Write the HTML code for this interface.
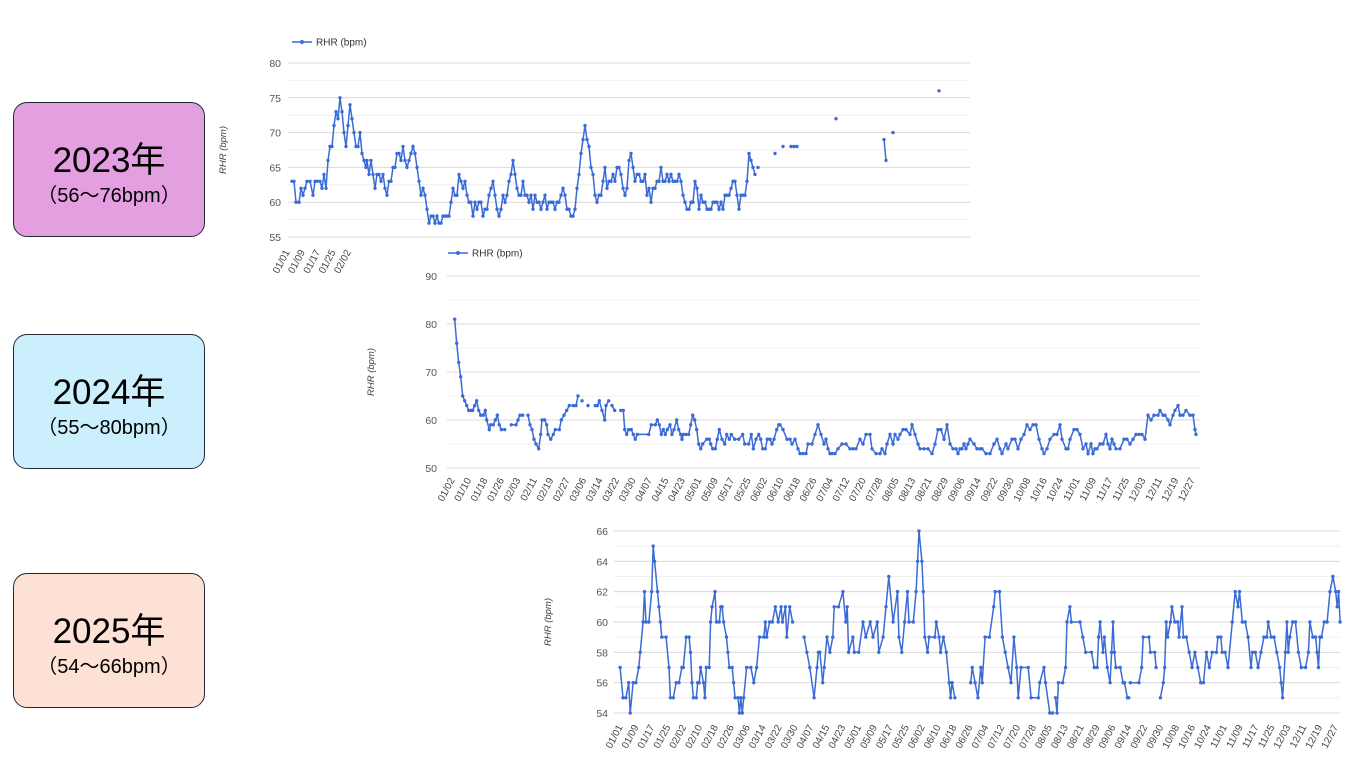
<!DOCTYPE html>
<html><head><meta charset="utf-8">
<style>
html,body{margin:0;padding:0;background:#fff;width:1347px;height:760px;overflow:hidden;position:relative;font-family:"Liberation Sans","Noto Sans CJK JP",sans-serif}
.box{position:absolute;left:13px;width:190px;height:133px;border:1.5px solid #1f2a36;border-radius:14px;text-align:center;color:#000}
.box .y{font-size:35px;margin-top:38px;line-height:40px}
.box .r{font-size:20px;line-height:30px}
svg{position:absolute;left:0;top:0}
</style></head><body>
<div class="box" style="top:102px;background:#e39fdf"><div class="y">2023年</div><div class="r">（56～76bpm）</div></div>
<div class="box" style="top:334px;background:#cbeffc"><div class="y">2024年</div><div class="r">（55～80bpm）</div></div>
<div class="box" style="top:573px;background:#fce1d4"><div class="y">2025年</div><div class="r">（54～66bpm）</div></div>
<svg id="s" width="1347" height="760" xmlns="http://www.w3.org/2000/svg" font-family="Liberation Sans, sans-serif"></svg>
<script>
var S=document.getElementById('s'),out='';
var C='#3a6bd6';
function grid(x0,x1,yTop,yBot,n,majorEvery){for(var i=0;i<=n;i++){var y=yTop+(yBot-yTop)*i/n;out+='<line x1="'+x0+'" x2="'+x1+'" y1="'+y+'" y2="'+y+'" stroke="'+(i%majorEvery==0?'#d9d9d9':'#efefef')+'" stroke-width="1"/>';}}
function ylab(x,yTop,yBot,vals){for(var i=0;i<vals.length;i++){var y=yTop+(yBot-yTop)*i/(vals.length-1);out+='<text x="'+x+'" y="'+(y+4)+'" font-size="10.5" fill="#555" text-anchor="end">'+vals[i]+'</text>';}}
function series(a,fx,fy){var segs=[],cur=[];for(var i=0;i<a.length;i+=2){if(a[i]===null){if(cur.length)segs.push(cur);cur=[];i--;continue;}cur.push([fx(a[i]),fy(a[i+1])]);}if(cur.length)segs.push(cur);
segs.forEach(function(s){if(s.length>1)out+='<polyline fill="none" stroke="'+C+'" stroke-width="1.5" points="'+s.map(function(p){return p[0].toFixed(1)+','+p[1].toFixed(1)}).join(' ')+'"/>';s.forEach(function(p){out+='<circle cx="'+p[0].toFixed(1)+'" cy="'+p[1].toFixed(1)+'" r="1.7" fill="'+C+'"/>';});});}
function legend(x,y){out+='<line x1="'+x+'" x2="'+(x+20)+'" y1="'+y+'" y2="'+y+'" stroke="'+C+'" stroke-width="1.5"/><circle cx="'+(x+10)+'" cy="'+y+'" r="2" fill="'+C+'"/><text x="'+(x+24)+'" y="'+(y+3.5)+'" font-size="10" fill="#333">RHR (bpm)</text>';}
function ytitle(x,y){out+='<text transform="translate('+x+','+y+') rotate(-90)" font-size="9.5" font-style="italic" fill="#444" text-anchor="middle">RHR (bpm)</text>';}
function xlabs(x0,dx,n,yy,startDate,limitX){var d=new Date(startDate);for(var i=0;i<n;i++){var x=x0+dx*i;if(limitX&&x>limitX)break;var m=('0'+(d.getUTCMonth()+1)).slice(-2),dd=('0'+d.getUTCDate()).slice(-2);out+='<text transform="translate('+(x+3)+','+yy+') rotate(-62)" font-size="10" fill="#444" text-anchor="end">'+m+'/'+dd+'</text>';d.setUTCDate(d.getUTCDate()+8);}}

grid(288,970,63,237,10,2);
ylab(281,63,237,[80,75,70,65,60,55]);
legend(292,42);ytitle(226,150);
var c1=[292,63,294,63,296,60,299,60,301,62,303,61,305,62,307,63,310,63,313,61,315,63,317,63,320,63,322,62,324,64,326,62,328,66,330,68,332,68,334,71,336,73,338,72,340,75,342,73,344,70,346,68,348,71,350,74,352,72,354,70,356,68,358,68,360,70,362,67,364,66,366,65,367,66,369,64,371,66,373,64,375,62,377,64,379,64,381,63,383,64,385,62,387,61,389,63,391,63,393,65,395,65,397,67,399,67,401,66,403,68,405,66,407,65,409,66,411,67,413,68,415,67,417,65,419,63,421,61,423,62,425,61,427,59,429,57,431,58,433,58,435,57,437,58,439,57,441,57,443,58,445,58,447,58,449,58,451,60,453,62,455,61,457,61,459,64,461,63,463,62,465,63,467,61,469,60,471,60,473,58,475,60,477,59,479,60,481,60,483,58,485,59,487,59,489,61,491,62,493,63,495,61,497,59,499,58,501,59,503,61,505,60,507,61,509,63,511,64,513,66,515,64,517,62,519,61,521,61,523,63,525,61,527,61,529,60,531,61,533,59,535,61,537,60,539,60,541,59,543,60,545,61,547,59,549,60,551,60,553,60,555,59,557,60,559,60,561,61,563,62,565,61,567,59,569,59,571,58,573,58,575,59,577,62,579,64,581,67,583,69,585,71,587,69,589,68,591,65,593,64,595,61,597,60,599,61,601,61,603,63,605,65,607,62,609,63,611,63,613,64,615,63,617,65,619,65,621,64,623,62,625,61,627,62,629,66,631,67,633,65,635,63,637,64,639,64,641,63,643,63,645,64,647,61,649,62,651,60,653,62,655,62,657,63,659,63,661,65,663,63,665,63,667,64,669,63,671,64,673,63,675,63,677,63,679,64,681,63,683,61,685,60,687,59,689,59,691,60,693,60,695,63,697,62,699,59,701,61,703,60,705,60,707,59,709,59,711,59,713,60,715,60,717,60,719,59,721,60,723,59,725,61,727,61,729,61,731,62,733,63,735,63,737,61,739,59,741,61,743,61,745,61,747,63,749,67,751,66,753,65,755,64,null,758,65,null,775,67,null,783,68,null,791,68,794,68,797,68,null,836,72,null,884,69,886,66,null,893,70,null,939,76];
series(c1,function(x){return x},function(v){return 237-(v-55)*6.96});
xlabs(287,15.3,5,252,'2023-01-01',355);
for(var k=0;k<28;k++){var xx=372+k*21.5;out+='<rect x="'+xx+'" y="244" width="2" height="2" fill="#bbb"/>';}

out+='<rect x="365" y="243" width="842" height="268" fill="#fff"/>';
grid(447,1200,276,468,8,2);
ylab(437,276,468,[90,80,70,60,50]);
legend(448,253);ytitle(374,372);
function z2(a){var r=[];for(var i=0;i<a.length;i++){if(a[i]===null){r.push(null);continue;}r.push(360+a[i]/3,a[i+1]);i++;}return r;}
var c2a=z2([284,81,290,76,296,72,302,69,308,65,314,64,320,63,326,62,332,62,338,62,344,63,350,64,356,62,362,61,370,61,376,62,380,60,388,58,392,59,400,59,406,60,412,61,418,59,424,58,434,58,null,454,59,468,59,474,60,480,61,488,61,null,504,61,510,59,516,58,522,56,528,55,536,54,542,57,546,60,554,60,560,59,564,57,572,56,580,57,586,58,598,58,604,60,612,61,620,62,628,63,640,63,648,63,654,65,null,666,64,null,684,63,null,706,63,712,63,718,64,726,62,734,60,738,63,746,64,null,756,63,764,62,null,782,62,790,62,794,58,800,57,806,58,814,58,820,57,826,56,832,57,866,57,874,59,886,59,892,60,898,59,904,57,910,58,916,57,922,58,930,59,936,57,942,58,950,60,956,58,962,57,966,56,970,57,978,57,986,57,992,59,998,61,1004,60,1010,58,1016,55,1022,54,1028,55,1040,56,1048,56,1052,55,1058,54,1066,54,1072,56,1078,58,1086,56,1094,55,1100,57,1108,56,1114,57,1124,56,1136,56,1148,57,1154,55,1166,55,1174,57,1180,54,1188,56,1196,57,1202,56,1208,54,1216,54,1222,56,1230,56,1236,55,1242,56,1250,58,1256,59]);
var c2b=[780,59,783,58,787,56,790,56,792,55,795,56,798,54,800,53,803,53,806,53,808,55,812,55,815,57,818,59,821,57,824,55,826,56,828,54,830,53,832,53,835,53,838,54,842,55,846,55,850,54,853,54,856,54,860,56,863,55,866,57,870,57,872,54,876,53,880,53,882,54,885,53,887,55,890,57,893,55,895,57,898,56,900,57,903,58,906,58,910,57,912,59,915,57,918,55,920,54,924,54,928,54,932,53,935,55,938,58,941,58,944,56,947,59,950,55,953,54,956,54,958,53,960,54,962,54,964,55,966,54,968,55,970,56,974,55,977,54,980,54,982,54,986,53,990,53,994,55,997,56,1000,54,1002,53,1006,55,1008,54,1012,56,1015,56,1018,54,1021,56,1024,57,1027,59,1030,58,1033,59,1036,59,1039,56,1042,54,1044,53,1047,54,1050,56,1054,57,1057,57,1060,59,1062,56,1066,54,1068,54,1070,56,1074,58,1077,58,1080,57,1083,54,1086,55,1088,53,1091,55,1093,53,1095,54,1097,54,1100,55,1103,55,1106,57,1108,55,1110,54,1112,56,1114,55,1116,54,1120,54,1124,56,1127,56,1130,55,1133,56,1136,57,1139,57,1142,57,1145,56,1148,61,1151,60,1154,61,1158,61,1160,62,1163,61,1165,61,1168,60,1170,59,1173,61,1175,62,1178,63,1180,61,1183,61,1186,62,1190,61,1193,61,1195,58,1196,57];
var fy2=function(v){return 468-(v-50)*4.8};
series(c2a,function(x){return x},fy2);
series(c2b,function(x){return x},fy2);
xlabs(452,16.45,46,480,'2024-01-02');

grid(614,1340,531,713,12,2);
ylab(608,531,713,[66,64,62,60,58,56,54]);
ytitle(551,622);
var c3=[614,57,616,55,618,55,620,56,621,54,623,56,625,56,627,57,628,58,630,60,631,62,632,60,634,60,636,62,637,65,638,64,640,62,641,61,642,60,643,59,646,59,648,57,649,55,651,55,653,56,655,56,657,57,658,57,660,59,662,59,663,58,664,56,665,55,667,55,668,56,669,56,670,57,672,56,673,55,674,57,676,57,677,60,678,61,680,62,681,60,683,60,684,61,685,61,686,60,688,59,689,58,690,57,692,57,693,56,694,55,696,55,697,54,698,55,699,54,700,55,702,57,705,57,707,56,709,57,711,59,714,59,715,60,716,59,718,60,720,60,722,61,724,60,726,61,727,60,729,61,730,59,732,61,734,60,null,742,59,744,58,746,57,749,55,751,57,752,58,753,58,755,56,756,57,758,59,760,58,762,59,763,61,766,61,769,62,771,60,772,61,773,58,776,59,777,58,780,58,783,60,785,59,788,60,790,59,793,60,794,58,797,59,799,61,801,63,804,60,807,62,808,59,810,58,812,60,814,62,815,60,818,60,820,62,821,64,822,66,824,64,825,62,826,59,828,58,829,59,833,59,834,60,836,59,837,58,839,59,841,58,843,56,844,55,845,56,847,55,null,858,56,859,57,861,56,863,55,865,57,866,56,868,59,871,59,874,61,875,62,878,62,880,59,882,58,884,57,886,56,888,59,890,57,891,55,893,57,898,57,900,55,905,55,906,56,909,57,910,56,913,54,915,54,null,917,55,918,54,919,56,922,56,924,57,925,60,927,61,928,60,934,60,936,59,938,58,942,58,944,57,946,57,947,59,948,60,950,58,951,59,953,57,955,56,956,58,957,60,958,58,959,57,962,57,964,56,965,56,967,55,968,55,null,969,56,975,56,977,57,978,59,982,59,983,58,986,58,987,57,null,990,55,992,56,993,57,994,60,995,59,997,60,998,61,1000,60,1002,60,1003,59,1005,61,1006,59,1008,59,1010,58,1012,57,1014,58,1016,57,1018,56,1020,56,1022,58,1024,57,1026,58,1029,58,1030,59,1032,59,1033,58,1035,58,1037,57,1040,60,1042,62,1044,61,1045,62,1047,60,1049,60,1051,59,1053,57,1054,58,1056,58,1058,57,1060,58,1062,59,1064,59,1065,60,1067,59,1069,59,1071,58,1073,57,1074,56,1075,55,1077,58,1078,60,1079,58,1080,59,1082,60,1084,60,1086,58,1088,57,1091,57,1093,58,1094,60,1096,59,1098,59,1099,58,1100,57,1101,59,1102,59,1104,60,1106,60,1108,62,1110,63,1112,62,1113,61,1114,62,1115,60];
series(c3,function(x){return 600+(x-600)*1.437},function(v){return 713-(v-54)*15.17});
xlabs(620,15.9,46,727,'2025-01-01');

S.innerHTML=out;
</script>
</body></html>
